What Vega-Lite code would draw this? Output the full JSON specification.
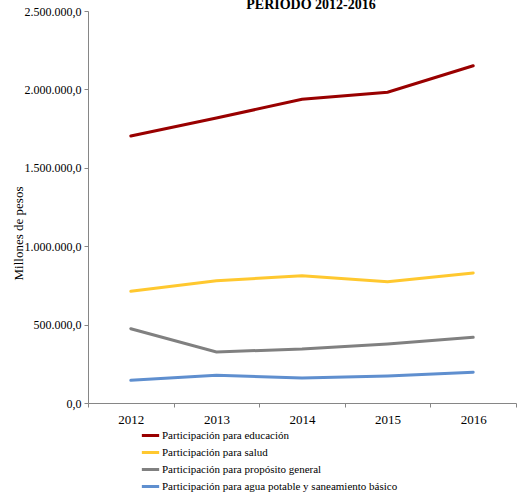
{
  "$schema": "https://vega.github.io/schema/vega-lite/v6.json",
  "autosize": {"type": "none"},
  "width": 428,
  "height": 392,
  "padding": {"left": 88, "top": 11, "right": 2, "bottom": 94},
  "config": {
    "locale": {"number": {"decimal": ",", "thousands": ".", "grouping": [3], "currency": ["$", ""]}},
    "view": {"stroke": null}
  },
  "title": {
    "text": "PERIODO  2012-2016",
    "font": "Liberation Serif",
    "fontSize": 14,
    "fontWeight": "bold",
    "color": "#000000",
    "anchor": "middle",
    "offset": 0,
    "dy": 7,
    "dx": 9
  },
  "data": {
    "values": [
      {"anio": "2012", "serie": "Participación para educación", "valor": 1702800},
      {"anio": "2013", "serie": "Participación para educación", "valor": 1817600},
      {"anio": "2014", "serie": "Participación para educación", "valor": 1936900},
      {"anio": "2015", "serie": "Participación para educación", "valor": 1981500},
      {"anio": "2016", "serie": "Participación para educación", "valor": 2151100},
      {"anio": "2012", "serie": "Participación para salud", "valor": 712400},
      {"anio": "2013", "serie": "Participación para salud", "valor": 780000},
      {"anio": "2014", "serie": "Participación para salud", "valor": 811900},
      {"anio": "2015", "serie": "Participación para salud", "valor": 773600},
      {"anio": "2016", "serie": "Participación para salud", "valor": 829100},
      {"anio": "2012", "serie": "Participación para propósito general", "valor": 473900},
      {"anio": "2013", "serie": "Participación para propósito general", "valor": 325300},
      {"anio": "2014", "serie": "Participación para propósito general", "valor": 344400},
      {"anio": "2015", "serie": "Participación para propósito general", "valor": 376300},
      {"anio": "2016", "serie": "Participación para propósito general", "valor": 418800},
      {"anio": "2012", "serie": "Participación para agua potable y saneamiento básico", "valor": 144800},
      {"anio": "2013", "serie": "Participación para agua potable y saneamiento básico", "valor": 176700},
      {"anio": "2014", "serie": "Participación para agua potable y saneamiento básico", "valor": 159400},
      {"anio": "2015", "serie": "Participación para agua potable y saneamiento básico", "valor": 172200},
      {"anio": "2016", "serie": "Participación para agua potable y saneamiento básico", "valor": 195800}
    ]
  },
  "mark": {"type": "line", "strokeWidth": 3, "strokeCap": "round"},
  "encoding": {
    "x": {
      "field": "anio",
      "type": "ordinal",
      "scale": {"paddingInner": 0, "paddingOuter": 0},
      "axis": {
        "title": null,
        "labelAngle": 0,
        "labelFont": "Liberation Serif",
        "labelFontWeight": "normal",
        "labelFontSize": 13,
        "labelColor": "#000000",
        "labelPadding": 6,
        "tickBand": "extent",
        "tickSize": 4,
        "tickColor": "#868686",
        "domainColor": "#868686",
        "grid": false
      }
    },
    "y": {
      "field": "valor",
      "type": "quantitative",
      "scale": {"domain": [0, 2500000], "nice": false},
      "axis": {
        "title": "Millones  de  pesos",
        "titleFont": "Liberation Serif",
        "titleFontSize": 13,
        "titleFontWeight": "normal",
        "titleColor": "#000000",
        "titleX": -70,
        "titleY": 222,
        "titleAlign": "center",
        "titleBaseline": "middle",
        "values": [0, 500000, 1000000, 1500000, 2000000, 2500000],
        "format": ",.1f",
        "labelFont": "Liberation Serif",
        "labelFontSize": 12,
        "labelColor": "#000000",
        "labelPadding": 3,
        "tickSize": 4,
        "tickColor": "#868686",
        "domainColor": "#868686",
        "grid": false
      }
    },
    "color": {
      "field": "serie",
      "type": "nominal",
      "scale": {
        "domain": [
          "Participación para educación",
          "Participación para salud",
          "Participación para propósito general",
          "Participación para agua potable y saneamiento básico"
        ],
        "range": ["#990000", "#FFC82F", "#808080", "#5F8FCF"]
      },
      "legend": {
        "title": null,
        "orient": "none",
        "legendX": 52,
        "legendY": 414,
        "direction": "vertical",
        "symbolType": "stroke",
        "symbolSize": 300,
        "symbolStrokeWidth": 3,
        "labelFont": "Liberation Serif",
        "labelFontSize": 11,
        "labelColor": "#000000",
        "labelOffset": 1,
        "rowPadding": -0.5,
        "labelLimit": 400
      }
    }
  }
}
